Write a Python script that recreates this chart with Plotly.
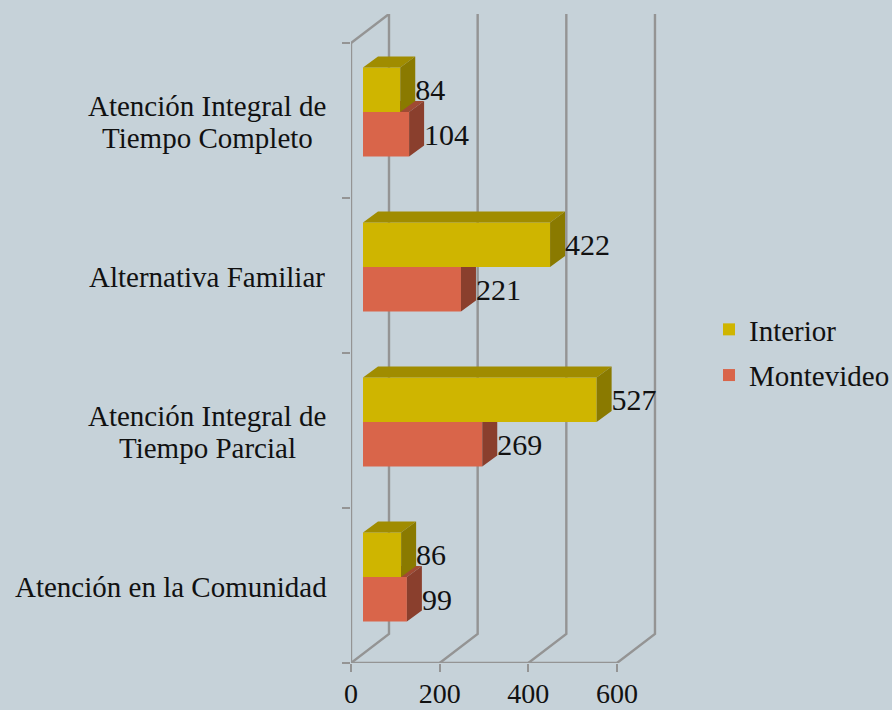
import plotly.graph_objects as go

# each category is a list of its text lines
categories = [["Atención en la Comunidad"], ["Atención Integral de", "Tiempo Parcial"],
              ["Alternativa Familiar"], ["Atención Integral de", "Tiempo Completo"]]
interior = [86, 527, 422, 84]
montevideo = [99, 269, 221, 104]
x_ticks = [0, 200, 400, 600]

W, H = 892, 710
L, R, T, B = 351, 660, 14, 663
PX_X = 0.4433              # pixels per value unit
PX_Y = 155.0               # pixels per category
WALL_X, WALL_Y = 38 / PX_X, 29 / PX_Y      # depth of the 3D box
START = 12 / PX_X          # bars start from plane inside box
DX, DY = 15 / PX_X, 11 / PX_Y              # bar depth
BAR_H = 44.5 / PX_Y
FLOOR = 0.268
GRID = "#949494"
SERIF = "Liberation Serif"
BG = "#c6d2d9"
xr = [0, (R - L) / PX_X]
yr = [0, (B - T) / PX_Y]


def faces(values, lift):
    top_x, top_y, side_x, side_y = [], [], [], []
    for i, v in enumerate(values):
        y0 = i + FLOOR + lift
        y1 = y0 + BAR_H
        xe = START + v
        top_x += [START, xe, xe + DX, START + DX, START, None]
        top_y += [y1, y1, y1 + DY, y1 + DY, y1, None]
        side_x += [xe, xe + DX, xe + DX, xe, xe, None]
        side_y += [y0, y0 + DY, y1 + DY, y1, y0, None]
    return top_x, top_y, side_x, side_y


fig = go.Figure()

# box: back wall gridlines, floor diagonals, front axes
gx, gy = [], []
for t in x_ticks:
    gx += [t, t + WALL_X, t + WALL_X, None]
    gy += [0, WALL_Y, yr[1], None]
gx += [0, WALL_X, None, 0, 0, None, 0, x_ticks[-1]]
gy += [4, 4 + WALL_Y, None, 0, 4, None, 0, 0]
fig.add_trace(go.Scatter(x=gx, y=gy, mode="lines", line=dict(color=GRID, width=2.4),
                         showlegend=False, hoverinfo="skip", cliponaxis=False))


def series(name, values, lift, front, top, side, xa, ya, rank):
    fig.add_trace(go.Bar(name=name, orientation="h", x=values, base=[START] * 4,
                         y=[i + FLOOR + lift + BAR_H / 2 for i in range(4)], width=BAR_H,
                         marker=dict(color=front, line=dict(width=0)), xaxis=xa, yaxis=ya,
                         legendgroup=name, legendrank=rank, hoverinfo="x+name"))
    tx, ty, sx, sy = faces(values, lift)
    for px, py, c in ((tx, ty, top), (sx, sy, side)):
        fig.add_trace(go.Scatter(x=px, y=py, mode="lines", fill="toself", fillcolor=c,
                                 line=dict(width=0, color=c), showlegend=False, hoverinfo="skip",
                                 xaxis=xa, yaxis=ya))
    fig.add_trace(go.Scatter(x=[START + v + DX for v in values],
                             y=[i + FLOOR + lift + BAR_H / 2 - 3 / PX_Y for i in range(4)],
                             mode="text", text=[str(v) for v in values], textposition="middle right",
                             textfont=dict(family=SERIF, size=30, color="#111111"),
                             showlegend=False, hoverinfo="skip", xaxis=xa, yaxis=ya, cliponaxis=False))


series("Montevideo", montevideo, 0, "#d9654a", "#a04a33", "#8a3f2d", "x2", "y2", 2)
series("Interior", interior, BAR_H, "#cfb500", "#a08c00", "#8a7a00", "x3", "y3", 1)

annotations = []
for i, lines in enumerate(categories):
    n = len(lines)
    for j, line in enumerate(lines):
        annotations.append(dict(
            text=line, xref="paper", yref="y",
            x=((171 if i == 0 else 207) - L) / (R - L),
            y=i + 0.5, yshift=(n - 1) / 2 * 32 - j * 32 - 1, showarrow=False, align="center",
            xanchor="center", yanchor="middle",
            font=dict(family=SERIF, size=29, color="#111111")))

fig.update_layout(
    width=W, height=H, autosize=False, paper_bgcolor=BG, plot_bgcolor=BG,
    margin=dict(l=L, r=W - R, t=T, b=H - B, autoexpand=False), barmode="overlay", annotations=annotations,
    xaxis=dict(range=xr, tickvals=x_ticks, ticks="outside", ticklen=8, tickwidth=2, tickcolor=GRID,
               showgrid=False, zeroline=False, showline=False, automargin=False, ticklabelstandoff=-3,
               tickfont=dict(family=SERIF, size=28, color="#111111")),
    yaxis=dict(range=yr, tickvals=list(range(5)), ticktext=[""] * 5, ticks="outside", ticklen=8,
               tickwidth=2, tickcolor=GRID, showgrid=False, zeroline=False, showline=False, automargin=False),
    xaxis2=dict(range=xr, overlaying="x", visible=False),
    yaxis2=dict(range=yr, overlaying="y", visible=False),
    xaxis3=dict(range=xr, overlaying="x", visible=False),
    yaxis3=dict(range=yr, overlaying="y", visible=False),
    legend=dict(xref="container", yref="container", x=709 / W, y=1 - 304 / H, xanchor="left", yanchor="top",
                font=dict(family=SERIF, size=29, color="#111111"), bgcolor="rgba(0,0,0,0)",
                traceorder="grouped", tracegroupgap=5),
)
fig.write_html("out.html", config=dict(displayModeBar=False),
               post_script="document.body.style.margin='0';document.body.style.background='%s';" % BG)
